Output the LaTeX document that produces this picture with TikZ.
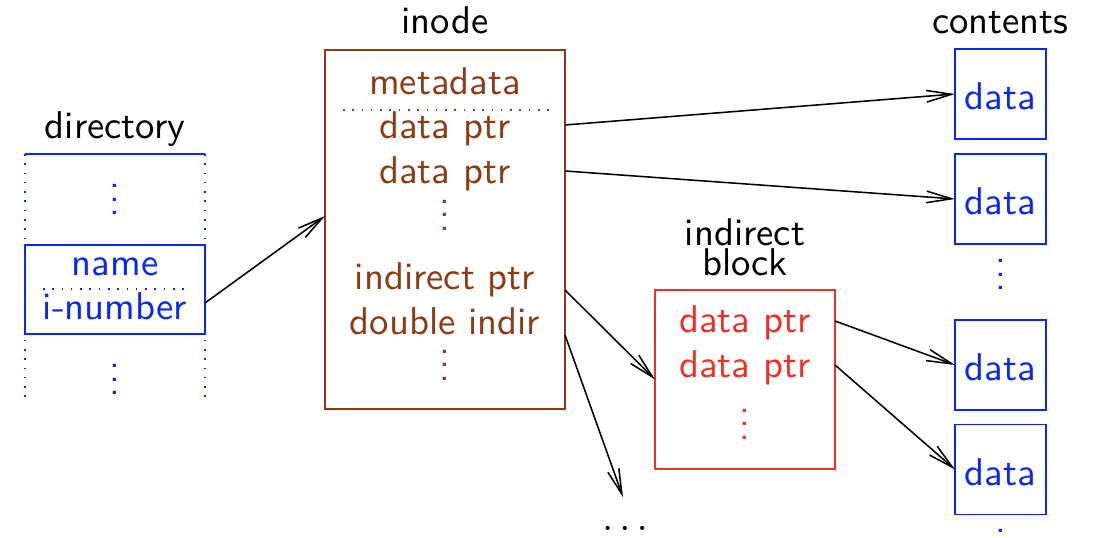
\documentclass[tikz,border=0pt]{standalone}
\usetikzlibrary{arrows.meta,calc}
\newdimen\px \px=0.2584pt
\definecolor{dirblue}{RGB}{10,40,240}
\definecolor{inobrown}{RGB}{140,60,20}
\definecolor{blkred}{RGB}{235,50,40}
\newcommand\vdts{\vbox{\baselineskip3.47pt\lineskiplimit0pt\hbox{.}\hbox{.}\hbox{.}}}
\begin{document}
\begin{tikzpicture}[x=\px,y=-\px,font=\sffamily,
  txt/.style={inner sep=0pt,text height=6.9pt,text depth=1.9pt},
  vdot/.style={inner sep=0pt},
  blk/.style={draw,outer sep=0pt,inner sep=0pt},
  cbox/.style={blk,dirblue,minimum width=91\px,minimum height=90\px,text height=8.2pt,text depth=0pt},
  ptr/.style={-{Straight Barb[length=6.5pt,width=3pt]}}]
\useasboundingbox (0,0) rectangle (1106,538);

% directory
\node[txt] (dirlbl) at (115,129) {directory};
\draw[dirblue] (25,154) -- (205,154);
\draw[dirblue,dotted] (25,154) -- (25,403) (205,154) -- (205,403);
\node[blk,dirblue,minimum width=180\px,minimum height=89\px] (dirent) at (115,289.5) {};
\node[txt,dirblue] (nm) at (115,266) {name};
\node[txt,dirblue] (inum) at (115,310) {i-number};
\draw[dirblue,dotted] (43,289) -- (190,289);
\node[vdot,dirblue] (dv1) at (115,199.5) {\vdts};
\node[vdot,dirblue] (dv2) at (115,379.5) {\vdts};

% inode
\node[txt] (inolbl) at (445,24) {inode};
\node[blk,inobrown,minimum width=240\px,minimum height=359\px] (inode) at (445,229.5) {};
\node[txt,inobrown] (md) at (445,85) {metadata};
\draw[inobrown,dotted] (343,110) -- (550,110);
\node[txt,inobrown] (dp1) at (445,129) {data ptr};
\node[txt,inobrown] (dp2) at (445,174) {data ptr};
\node[vdot,inobrown] (iv1) at (445,215) {\vdts};
\node[txt,inobrown] (ind) at (445,280) {indirect ptr};
\node[txt,inobrown] (dbl) at (445,325) {double indir};
\node[vdot,inobrown] (iv2) at (445,365) {\vdts};

% indirect block
\node[align=center,inner sep=0pt] (iblklbl) at (745,247) {indirect\\[-4.3pt]block};
\node[blk,blkred,minimum width=180\px,minimum height=179\px] (iblk) at (745,379.5) {};
\node[txt,blkred] (idp1) at (745,323) {data ptr};
\node[txt,blkred] (idp2) at (745,368) {data ptr};
\node[vdot,blkred] (bv) at (745,424) {\vdts};

\node[txt] (more) at (625,521) {$\ldots$};

% contents
\node[txt] (conlbl) at (1000.5,24) {contents};
\node[cbox] (c1) at (1000.5,94) {data};
\node[cbox] (c2) at (1000.5,199) {data};
\node[vdot,dirblue] (cv1) at (1000.5,274.5) {\vdts};
\node[cbox] (c3) at (1000.5,365) {data};
\node[cbox] (c4) at (1000.5,469.5) {data};
\node[vdot,dirblue] (cv2) at (1000.5,544.5) {\vdts};

% pointers
\draw[ptr] ($(inum -| dirent.east)+(0,-7)$) -- ($(inode.west)+(0,-13.5)$);
\draw[ptr] ($(dp1 -| inode.east)+(0,-4)$) -- (c1.west);
\draw[ptr] ($(dp2 -| inode.east)+(0,-3)$) -- (c2.west);
\draw[ptr] ($(ind -| inode.east)+(0,10)$) -- (iblk.west);
\draw[ptr] ($(dbl -| inode.east)+(0,10)$) -- ($(more.north)+(-2,-6)$);
\draw[ptr] ($(idp1 -| iblk.east)+(0,-2)$) -- (c3.west);
\draw[ptr] ($(idp2 -| iblk.east)+(0,-3)$) -- (c4.west);
\end{tikzpicture}
\end{document}
